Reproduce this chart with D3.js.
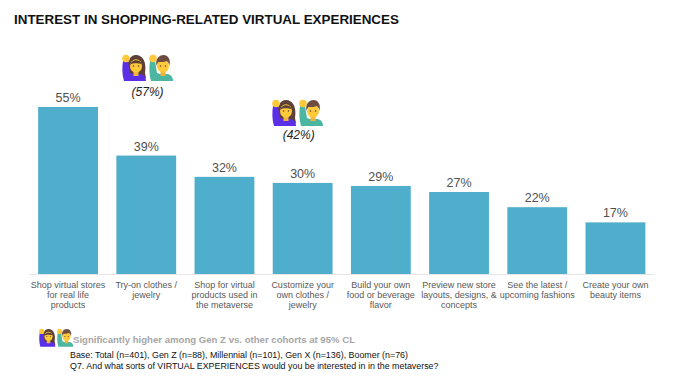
<!DOCTYPE html>
<html>
<head>
<meta charset="utf-8">
<script src="https://cdn.jsdelivr.net/npm/d3@7"></script>
<style>
  body { margin: 0; background: #fff; }
  svg { display: block; }
  text { font-family: "Liberation Sans", Arial, sans-serif; }
</style>
</head>
<body>
<svg width="690" height="381"></svg>
<script>
// chart data
const categories = [
  ["Shop virtual stores", "for real life", "products"],
  ["Try-on clothes /", "jewelry"],
  ["Shop for virtual", "products used in", "the metaverse"],
  ["Customize your", "own clothes /", "jewelry"],
  ["Build your own", "food or beverage", "flavor"],
  ["Preview new store", "layouts, designs, &", "concepts"],
  ["See the latest /", "upcoming fashions"],
  ["Create your own", "beauty items"]
];
const values = [55, 39, 32, 30, 29, 27, 22, 17];
// callouts: category index and Gen Z share
const calloutIndex = [1, 3];
const calloutValues = [57, 42];

const titleText = "INTEREST IN SHOPPING-RELATED VIRTUAL EXPERIENCES";
const legendText = "Significantly higher among Gen Z vs. other cohorts at 95% CL";
const notes = [
  "Base: Total (n=401), Gen Z (n=88), Millennial (n=101), Gen X (n=136), Boomer (n=76)",
  "Q7. And what sorts of VIRTUAL EXPERIENCES would you be interested in in the metaverse?"
];

const svg = d3.select("svg");

const x = d3.scaleBand()
  .domain(d3.range(categories.length))
  .range([29, 654.5])
  .paddingInner(0.235)
  .paddingOuter(0.117);
const y = d3.scaleLinear().domain([0, 55]).range([274, 107]);

svg.append("text")
  .attr("x", 14).attr("y", 24)
  .attr("font-size", 13.4).attr("font-weight", 700).attr("fill", "#111")
  .text(titleText);

// bars
svg.selectAll(".bar")
  .data(values)
  .enter()
  .append("rect")
  .attr("class", "bar")
  .attr("x", (d, i) => x(i))
  .attr("y", d => y(d))
  .attr("width", x.bandwidth())
  .attr("height", d => y(0) - y(d))
  .attr("fill", "#4FAECB");

// baseline
svg.append("line")
  .attr("x1", 29).attr("x2", 654)
  .attr("y1", 274.5).attr("y2", 274.5)
  .attr("stroke", "#e6e6e6");

// value labels
svg.selectAll(".val")
  .data(values)
  .enter()
  .append("text")
  .attr("class", "val")
  .attr("x", (d, i) => x(i) + x.bandwidth() / 2)
  .attr("y", d => y(d) - 5)
  .attr("text-anchor", "middle")
  .attr("font-size", 12.5)
  .attr("fill", "#505050")
  .text(d => d + "%");

// category labels
const cats = svg.selectAll(".cat")
  .data(categories)
  .enter()
  .append("text")
  .attr("class", "cat")
  .attr("text-anchor", "middle")
  .attr("font-size", 9)
  .attr("fill", "#595959");
cats.selectAll("tspan")
  .data((d, i) => d.map(s => ({ s, i })))
  .enter()
  .append("tspan")
  .attr("x", d => x(d.i) + x.bandwidth() / 2)
  .attr("y", (d, j) => 288 + j * 10)
  .text(d => d.s);

// little raised-hand people, the source uses emoji images
function person(g, px, py, s, woman) {
  const p = g.append("g").attr("transform", `translate(${px},${py}) scale(${s})`);
  const shirt = woman ? "#5B2FE6" : "#4DB6A0";
  const hair = woman ? "#5D4037" : "#6D4C41";
  if (woman) {
    p.append("path").attr("d", "M6 18C4 7 8 0 14 0s11 6 9 18l1 5H5z").attr("fill", hair);
  }
  // raised arm and body
  p.append("path")
    .attr("d", "M1 6h5l2 12 3 1h8c3 1 5 3 5 7H2C0 20 0 12 1 6z")
    .attr("fill", shirt);
  // neck and face
  p.append("rect").attr("x", 11.5).attr("y", 15).attr("width", 5).attr("height", 6).attr("fill", "#EDB33E");
  p.append("ellipse").attr("cx", 14).attr("cy", 11).attr("rx", 6).attr("ry", 6.8).attr("fill", "#FFCA3A");
  if (woman) {
    p.append("path").attr("d", "M8 10c1-5 9-7 12-1-3 0-8-2-12 1z").attr("fill", hair);
  } else {
    p.append("path").attr("d", "M7.5 11C6 4 10 0 14.5 0S22 4 20.5 11c-.5-3-1.500-4-3-5-3 1.500-7 1-8 1-1 1-1.500 2-2 4z").attr("fill", hair);
  }
  // eyes
  p.append("circle").attr("cx", 11.5).attr("cy", 11).attr("r", 0.8).attr("fill", "#5D4037");
  p.append("circle").attr("cx", 16.5).attr("cy", 11).attr("r", 0.8).attr("fill", "#5D4037");
  // hand
  p.append("ellipse").attr("cx", 4).attr("cy", 3.5).attr("rx", 3.8).attr("ry", 3.8).attr("fill", "#FFC93C");
}
function pair(px, py, s, gap) {
  const g = svg.append("g");
  person(g, px, py, s, true);
  person(g, px + gap, py, s, false);
}

// callouts sit above their bars, with the source's hand placement
const calloutDx = [1.3, -4];
const calloutDy = [-59.5, -44];
svg.selectAll(".callout")
  .data(calloutValues)
  .enter()
  .append("text")
  .attr("class", "callout")
  .attr("x", (d, i) => x(calloutIndex[i]) + x.bandwidth() / 2 + calloutDx[i])
  .attr("y", (d, i) => y(values[calloutIndex[i]]) + calloutDy[i])
  .attr("text-anchor", "middle")
  .attr("font-size", 12)
  .attr("font-style", "italic")
  .attr("fill", "#222")
  .text(d => `(${d}%)`);

pair(122, 55, 1, 27);
pair(272, 100, 1, 27);
pair(39, 329, 0.68, 18);

// footer
svg.append("text")
  .attr("x", 73).attr("y", 343)
  .attr("font-size", 9.6).attr("font-weight", 700).attr("fill", "#a6a6a6")
  .text(legendText);

svg.selectAll(".note")
  .data(notes)
  .enter()
  .append("text")
  .attr("class", "note")
  .attr("x", 70)
  .attr("y", (d, i) => 358 + i * 11)
  .attr("font-size", 8.9)
  .attr("fill", "#111")
  .text(d => d);
</script>
</body>
</html>
